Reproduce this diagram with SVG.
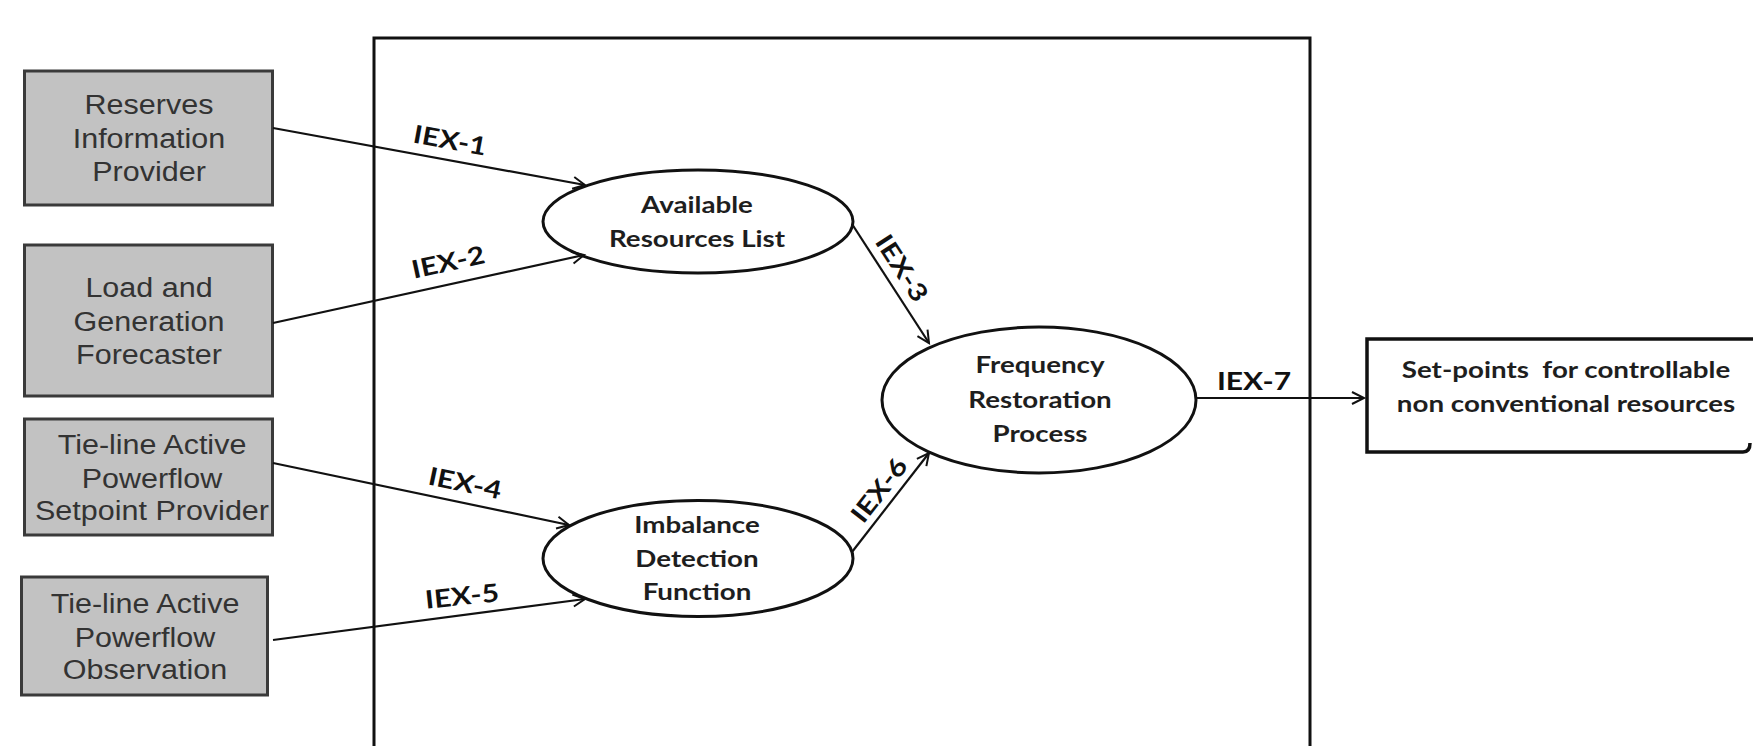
<svg xmlns="http://www.w3.org/2000/svg" width="1753" height="746" viewBox="0 0 1753 746">
<style>
.box rect{fill:#c2c2c2;stroke:#3a3a3a;stroke-width:3}
.bt{font-family:"Liberation Sans",Arial,sans-serif;font-size:27px;fill:#333;text-anchor:middle}
.el ellipse{fill:#fff;stroke:#111;stroke-width:3}
.et{font-family:Lato,"Open Sans",sans-serif;font-weight:bold;font-size:23.5px;fill:#1e1e1e;text-anchor:middle}
.lbl{font-family:Lato,"Open Sans",sans-serif;font-weight:bold;font-size:25px;fill:#111;text-anchor:middle}
.conn line{stroke:#111;stroke-width:2.2;marker-end:url(#arr)}
</style>
<defs>
<marker id="arr" markerUnits="userSpaceOnUse" markerWidth="16" markerHeight="16" refX="13" refY="7" orient="auto" viewBox="0 0 16 14"><path d="M1,1 L13,7 L1,13" fill="none" stroke="#111" stroke-width="2"/></marker>
</defs>
<rect width="1753" height="746" fill="#fff"/>
<g id="frame"><rect x="374" y="38" width="936" height="740" fill="none" stroke="#111" stroke-width="3"/></g>

<g id="reserves-info-provider" class="box">
<rect x="24.5" y="71" width="248" height="134"/>
<g transform="translate(149,0) scale(1.13,1)"><text class="bt"><tspan x="0" y="114">Reserves</tspan><tspan x="0" y="148">Information</tspan><tspan x="0" y="181">Provider</tspan></text></g>
</g>
<g id="load-gen-forecaster" class="box">
<rect x="24.5" y="245" width="248" height="151"/>
<g transform="translate(149,0) scale(1.13,1)"><text class="bt"><tspan x="0" y="297">Load and</tspan><tspan x="0" y="331">Generation</tspan><tspan x="0" y="364">Forecaster</tspan></text></g>
</g>
<g id="tieline-setpoint-provider" class="box">
<rect x="24.5" y="419" width="248" height="116"/>
<g transform="translate(152,0) scale(1.13,1)"><text class="bt"><tspan x="0" y="454">Tie-line Active</tspan><tspan x="0" y="488">Powerflow</tspan><tspan x="0" y="520">Setpoint Provider</tspan></text></g>
</g>
<g id="tieline-observation" class="box">
<rect x="21.5" y="577" width="246" height="118"/>
<g transform="translate(145,0) scale(1.13,1)"><text class="bt"><tspan x="0" y="613">Tie-line Active</tspan><tspan x="0" y="647">Powerflow</tspan><tspan x="0" y="679">Observation</tspan></text></g>
</g>

<g id="available-resources-list" class="el">
<ellipse cx="698" cy="221.5" rx="155" ry="51.5"/>
<g transform="translate(697,0) scale(1.18,1)"><text class="et"><tspan x="0" y="213">Available</tspan><tspan x="0" y="247">Resources List</tspan></text></g>
</g>
<g id="imbalance-detection-function" class="el">
<ellipse cx="698" cy="558.5" rx="155" ry="58"/>
<g transform="translate(697,0) scale(1.18,1)"><text class="et"><tspan x="0" y="533">Imbalance</tspan><tspan x="0" y="567">Detection</tspan><tspan x="0" y="600">Function</tspan></text></g>
</g>
<g id="frequency-restoration-process" class="el">
<ellipse cx="1039" cy="400" rx="157" ry="73"/>
<g transform="translate(1040,0) scale(1.18,1)"><text class="et"><tspan x="0" y="373">Frequency</tspan><tspan x="0" y="408">Restoration</tspan><tspan x="0" y="442">Process</tspan></text></g>
</g>
<g id="setpoints-output">
<path d="M1753,339 H1367 V452 H1743 q7,0 7,-9" fill="none" stroke="#111" stroke-width="3.5"/>
<g transform="translate(1566,0) scale(1.18,1)"><text class="et" xml:space="preserve"><tspan x="0" y="378">Set-points  for controllable</tspan><tspan x="0" y="412">non conventional resources</tspan></text></g>
</g>

<g id="connectors" class="conn">
<line x1="273" y1="128" x2="585" y2="185"/>
<line x1="273" y1="323" x2="584" y2="255"/>
<line x1="852" y1="224" x2="929" y2="343"/>
<line x1="273" y1="463" x2="569" y2="525"/>
<line x1="273" y1="640" x2="585" y2="599"/>
<line x1="852" y1="552" x2="929" y2="453"/>
<line x1="1196" y1="398" x2="1364" y2="398"/>
<g transform="translate(450,140) rotate(10.4) scale(1.2,1)"><text class="lbl" x="0" y="9">IEX-1</text></g>
<g transform="translate(448,262) rotate(-12.3) scale(1.2,1)"><text class="lbl" x="0" y="9">IEX-2</text></g>
<g transform="translate(902,268) rotate(57) scale(1.2,1)"><text class="lbl" x="0" y="9">IEX-3</text></g>
<g transform="translate(465,483) rotate(11.8) scale(1.2,1)"><text class="lbl" x="0" y="9">IEX-4</text></g>
<g transform="translate(462,596) rotate(-6) scale(1.2,1)"><text class="lbl" x="0" y="9">IEX-5</text></g>
<g transform="translate(879,490) rotate(-52) scale(1.2,1)"><text class="lbl" x="0" y="9">IEX-6</text></g>
<g transform="translate(1254,381) scale(1.2,1)"><text class="lbl" x="0" y="9">IEX-7</text></g>
</g>
</svg>
